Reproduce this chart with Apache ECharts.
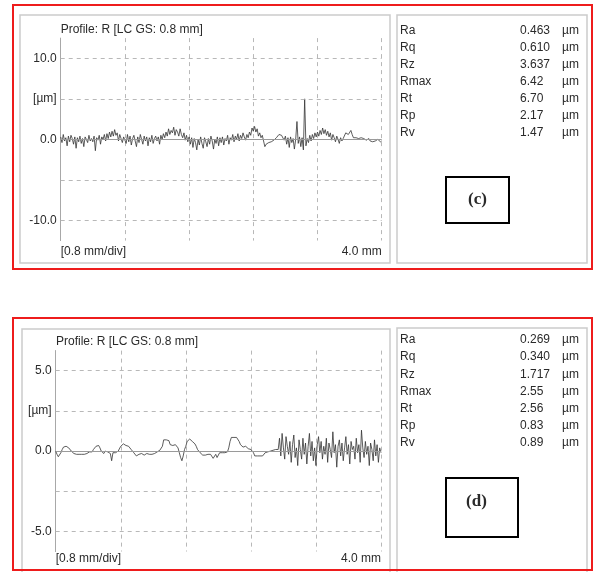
<!DOCTYPE html>
<html><head><meta charset="utf-8">
<script src="https://cdn.jsdelivr.net/npm/echarts@6/dist/echarts.min.js"></script>
<style>html,body{margin:0;padding:0;background:#fff}#c{width:596px;height:572px}</style>
</head><body><div id="c"></div>
<script>
const profileTitle = 'Profile: R [LC GS: 0.8 mm]';
const xStep = 0.016;
const xTickLabels = ['[0.8 mm/div]', '4.0 mm'];
const profileC = [
0.3,-0.4,0.6,-0.2,0.2,-0.8,0.4,-0.3,0.5,0.1,-0.6,0.3,-1.1,0.2,-0.3,0.4,-0.5,0.1,-0.9,0.3,0.0,-0.4,0.5,-0.2,0.1,
-0.3,0.4,-1.4,0.2,-0.1,0.5,-0.6,0.3,0.0,0.6,-0.2,0.7,0.1,0.9,0.3,1.0,0.4,1.2,0.5,0.8,-0.2,0.6,0.1,-0.4,0.3,
0.2,-0.5,0.6,-0.3,0.4,-0.7,0.1,0.5,-0.2,-0.9,0.3,-0.4,0.6,0.0,-0.6,0.4,-0.2,0.3,-0.8,0.2,-0.3,0.5,-0.5,0.1,0.4,
-0.2,0.3,-0.6,0.5,0.0,0.7,0.2,0.9,0.4,1.3,0.6,1.1,0.8,1.5,0.5,1.2,0.9,0.4,1.3,0.6,0.2,0.8,-0.1,0.5,-0.3,
0.3,-0.6,0.2,-1.0,0.1,-0.4,-1.3,0.0,-0.7,0.3,-0.5,-1.1,0.2,-0.3,-0.9,0.1,-0.6,0.4,-0.2,-1.2,0.0,-0.5,0.3,-0.8,0.2,
-0.4,0.3,-0.7,0.1,-0.2,0.5,-0.6,0.2,-0.1,0.6,-0.3,0.4,0.0,0.7,-0.2,0.5,0.1,0.8,0.3,-0.1,0.6,0.2,0.9,0.5,1.4,
1.0,1.6,0.9,1.3,0.4,0.8,0.2,0.5,-0.2,-0.9,-0.6,-0.5,-0.4,-0.35,-0.3,-0.2,-0.1,0.0,0.2,0.4,0.6,0.7,0.5,0.3,-0.1,
0.4,-0.6,0.2,-1.0,0.3,-0.4,0.1,-1.2,0.0,2.2,-0.5,0.3,-0.9,0.2,-1.3,5.0,-0.8,0.1,-0.4,0.5,-0.2,0.6,0.1,0.8,0.3,
0.9,0.4,1.1,0.6,1.4,0.7,1.2,0.5,1.0,0.3,0.8,-0.1,0.6,0.2,-0.3,0.4,0.0,-0.5,0.2,-0.2,0.1,0.3,0.8,1.0,0.6,
0.7,1.1,0.6,0.2,0.0,0.2,0.3,0.1,-0.1,0.2,0.3,0.1,0.0,-0.1,0.0,0.1,-0.2,-0.4,-0.3,-0.5,-0.2,-0.1,0.0,-0.2,-0.3,-0.2
];
const profileD = [
0.0,-0.2,-0.35,-0.3,-0.1,0.1,0.25,0.3,0.3,0.25,
0.2,0.1,0.0,-0.1,-0.15,-0.2,-0.2,-0.15,-0.2,-0.25,
-0.2,-0.15,-0.2,-0.1,-0.15,-0.1,-0.05,0.0,-0.05,0.1,
0.2,0.3,0.4,0.35,0.2,0.0,-0.1,-0.15,0.0,-0.1,
-0.05,-0.1,-0.15,-0.6,-0.1,-0.05,-0.1,0.0,0.0,0.1,
0.3,0.4,0.45,0.4,0.35,0.4,0.3,0.2,0.1,0.0,
-0.1,-0.2,-0.3,-0.25,-0.2,-0.2,-0.15,-0.2,-0.25,-0.2,
-0.15,-0.2,-0.2,-0.15,-0.2,-0.1,-0.15,-0.1,-0.05,0.0,
0.05,0.0,0.3,0.7,0.75,0.7,0.7,0.65,0.4,0.3,
0.35,0.4,0.4,0.4,0.2,-0.1,-0.4,-0.6,-0.3,0.1,
0.3,0.6,0.7,0.75,0.65,0.6,0.5,0.45,0.3,0.1,
0.0,-0.1,-0.2,-0.25,-0.3,-0.25,-0.3,-0.2,-0.1,-0.2,
-0.3,-0.45,-0.35,-0.2,-0.4,-0.3,-0.1,-0.2,-0.1,-0.15,
-0.1,0.0,-0.05,0.2,0.6,0.85,0.9,0.85,0.8,0.85,
0.8,0.6,0.4,0.3,0.25,0.2,0.3,0.2,0.15,0.2,
0.1,0.0,-0.1,-0.3,-0.25,-0.3,-0.35,-0.3,-0.25,-0.3,
-0.2,-0.1,-0.15,-0.05,-0.1,0.0,-0.05,0.05,0.0,0.1,
0.0,0.1,0.8,-0.3,1.1,0.2,-0.5,0.9,0.3,-0.2,
0.6,-0.7,0.4,1.0,-0.4,0.2,-0.9,0.7,0.1,-0.5,
0.8,-0.2,0.5,-0.8,0.3,1.1,-0.3,0.6,-0.6,0.2,
-0.9,0.4,0.9,-0.1,0.6,-0.5,0.3,-0.2,0.8,-0.7,
0.5,0.1,-0.4,1.2,-0.1,0.4,-1.0,0.3,0.7,-0.3,
0.5,-0.6,0.2,0.9,-0.2,0.4,-0.8,0.6,0.1,0.3,
-0.5,0.8,-0.1,0.4,-0.7,1.3,0.2,-0.4,0.6,-0.2,
0.3,-0.9,0.5,0.1,-0.6,0.7,-0.3,0.4,-0.7,0.2,-0.1
];
const yTicksC = [10, 5, 0, -5, -10];
const yLabelsC = ['10.0', '[µm]', '0.0', '', '-10.0'];
const yTicksD = [5, 2.5, 0, -2.5, -5];
const yLabelsD = ['5.0', '[µm]', '0.0', '', '-5.0'];
const statNames = ['Ra', 'Rq', 'Rz', 'Rmax', 'Rt', 'Rp', 'Rv'];
const statsC = ['0.463', '0.610', '3.637', '6.42', '6.70', '2.17', '1.47'];
const statsD = ['0.269', '0.340', '1.717', '2.55', '2.56', '0.83', '0.89'];
const statUnit = 'µm';
const panelTags = ['(c)', '(d)'];

const FONT = '12px "Liberation Sans", Arial, sans-serif';
const TXT = '#2a2a2a';
const GRID = '#b8b8b8';

function mkX(idx, margin) {
  return {
    type: 'value', gridIndex: idx, min: 0, max: 4, interval: 0.8,
    axisLine: {show: false}, axisTick: {show: false},
    splitLine: {show: true, lineStyle: {color: GRID, type: [4, 4], width: 1}},
    axisLabel: {
      show: true, margin: margin, color: TXT, fontSize: 12, fontFamily: '"Liberation Sans", Arial',
      showMinLabel: true, showMaxLabel: true, hideOverlap: false,
      alignMinLabel: 'left', alignMaxLabel: 'right',
      formatter: v => Math.abs(v) < 1e-6 ? xTickLabels[0] : (Math.abs(v - 4) < 1e-6 ? xTickLabels[1] : '')
    }
  };
}
function mkY(idx, lim, step, ticks, labels) {
  return {
    type: 'value', gridIndex: idx, min: -lim, max: lim, interval: step,
    axisLine: {show: true, lineStyle: {color: '#a8a8a8', width: 1}},
    axisTick: {show: false}, splitLine: {show: false},
    axisLabel: {
      show: true, margin: 4, color: TXT, fontSize: 12, fontFamily: '"Liberation Sans", Arial',
      showMinLabel: true, showMaxLabel: true,
      formatter: v => { const k = ticks.findIndex(t => Math.abs(t - v) < 1e-6); return k >= 0 ? labels[k] : ''; }
    }
  };
}
function mkSeries(idx, data, ticks) {
  return {
    type: 'line', xAxisIndex: idx, yAxisIndex: idx, showSymbol: false, symbol: 'none',
    animation: false, silent: true,
    lineStyle: {color: '#333', width: 0.8},
    data: data.map((v, i) => [+(i * xStep).toFixed(4), v]),
    markLine: {
      silent: true, symbol: ['none', 'none'], label: {show: false}, animation: false,
      data: ticks.map(v => ({yAxis: v, lineStyle: v === 0 ? {type: 'solid', color: '#9a9a9a', width: 1} : {type: [4, 4], color: GRID, width: 1}}))
    }
  };
}

const graphics = [];
function rect(x, y, w, h, stroke, lw) {
  graphics.push({type: 'rect', shape: {x, y, width: w, height: h}, style: {fill: 'none', stroke, lineWidth: lw}, silent: true});
}
function text(x, y, t, align, font) {
  graphics.push({type: 'text', x: 0, y: 0, style: {x, y, text: t, font: font || FONT, fill: TXT, align: align || 'left', verticalAlign: 'middle'}, silent: true});
}
// panels
rect(20, 15, 370, 248, '#cbcbcb', 1.5);
rect(397, 15, 190, 248, '#cbcbcb', 1.5);
rect(22, 329, 368, 260, '#cbcbcb', 1.5);
rect(397, 328, 190, 260, '#cbcbcb', 1.5);
rect(13, 5, 579, 264, '#ee1c1c', 2);
rect(13, 318, 579, 252, '#ee1c1c', 2);
// titles
text(60.7, 30, profileTitle);
text(56, 342, profileTitle);
// stats
statNames.forEach((n, i) => {
  const y1 = 30.7 + i * 17.05, y2 = 340 + i * 17.15;
  text(400, y1, n); text(520, y1, statsC[i]); text(562, y1, statUnit);
  text(400, y2, n); text(520, y2, statsD[i]); text(562, y2, statUnit);
});
// tag boxes
rect(446, 177, 63, 46, '#000', 2);
text(477.5, 200, panelTags[0], 'center', 'bold 17px "Liberation Serif", "Times New Roman", serif');
rect(446, 478, 72, 59, '#000', 2);
text(476.5, 501.5, panelTags[1], 'center', 'bold 17px "Liberation Serif", "Times New Roman", serif');

const chart = echarts.init(document.getElementById('c'), null, {renderer: 'canvas'});
chart.setOption({
  animation: false,
  backgroundColor: '#fff',
  grid: [
    {left: 60.7, width: 321, top: 38.1, height: 202.5, containLabel: false},
    {left: 55.7, width: 325.3, top: 350.6, height: 201, containLabel: false}
  ],
  xAxis: [mkX(0, 5), mkX(1, 1)],
  yAxis: [mkY(0, 12.5, 2.5, yTicksC, yLabelsC), mkY(1, 6.25, 1.25, yTicksD, yLabelsD)],
  series: [mkSeries(0, profileC, yTicksC), mkSeries(1, profileD, yTicksD)],
  graphic: graphics
});
</script></body></html>
